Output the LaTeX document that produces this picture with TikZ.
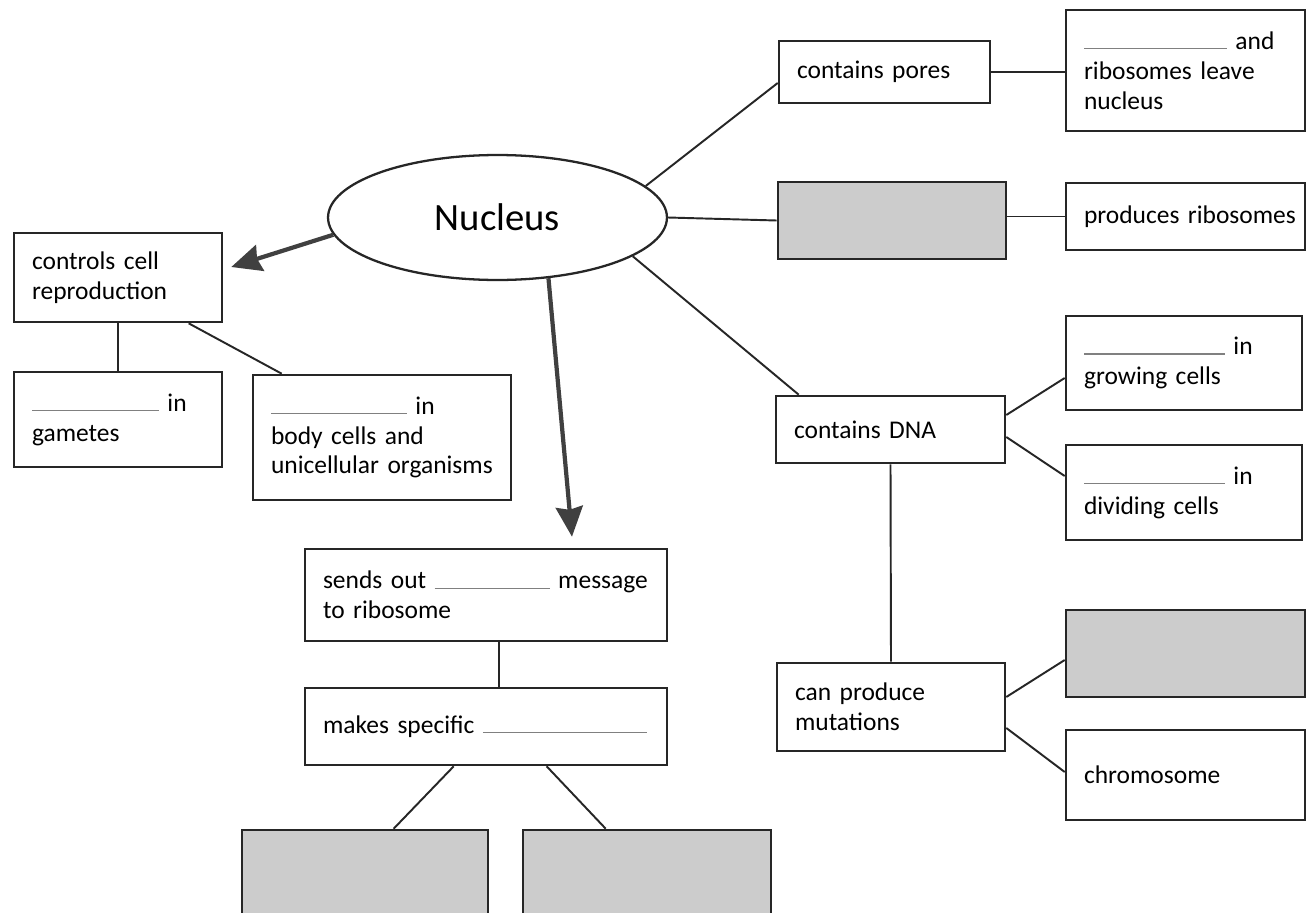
\documentclass[tikz,border=0pt]{standalone}
\usepackage{fontspec}
\setmainfont{Carlito}
\usepackage{tikz}
\usetikzlibrary{arrows.meta, shapes.geometric}
\newcommand{\blank}[1]{\textcolor{gray}{\rule{#1}{0.7pt}}}

\begin{document}
\begin{tikzpicture}[x=0.02cm, y=-0.02cm,
	box/.style={draw=black!85, line width=1.5pt, align=left, inner sep=0pt, font=\fontsize{14.5}{17}\selectfont},
	shaded/.style={draw=black!85, line width=1.5pt, fill=gray!40},
	link/.style={draw=black!85, line width=1.1pt},
	bigarrow/.style={draw=black!75, line width=2.4pt, -{Stealth[length=0.6cm, width=0.54cm, inset=0.06cm]}}]
		\useasboundingbox (0,0) rectangle (1316,913);
		\clip (0,0) rectangle (1316,913);
		\fill[white] (0,0) rectangle (1316,913);
		
		\node[ellipse, draw=black!85, line width=1.3pt, minimum width=6.78cm, minimum height=2.5cm, font=\fontsize{22}{26}\selectfont] (nuc) at (497.5,217.5) {Nucleus};
		
		% left branch
		\node[box, minimum width=4.16cm, minimum height=1.78cm, text width=3.44cm] (ctrl) at (118,277.5) {controls cell\\reproduction};
		\node[box, minimum width=4.16cm, minimum height=1.9cm, text width=3.44cm] (gam) at (118,419.5) {\blank{2.54cm} in\\gametes};
		\node[box, minimum width=5.16cm, minimum height=2.5cm, text width=4.44cm] (body) at (382,437.5) {\blank{2.72cm} in\\body cells and\\unicellular organisms};
		\draw[bigarrow] (nuc.186) -- ([xshift=0.16cm, yshift=0.21cm]ctrl.east);
		\draw[link] (ctrl.south) -- (gam.north);
		\draw[link] ([xshift=3.52cm]ctrl.south west) -- ([xshift=0.6cm]body.north west);
		
		% middle branch
		\node[box, minimum width=7.24cm, minimum height=1.84cm, text width=6.52cm] (send) at (486,595) {\mbox{sends out \blank{2.3cm} message}\\to ribosome};
		\node[box, minimum width=7.24cm, minimum height=1.54cm, text width=6.52cm] (spec) at (486,726.5) {\mbox{makes specific \blank{3.28cm}}};
		\node[shaded, minimum width=4.92cm, minimum height=2.3cm] (g1) at (365,887.5) {};
		\node[shaded, minimum width=4.96cm, minimum height=2.3cm] (g2) at (647,887.5) {};
		\draw[bigarrow] (nuc.-50) -- ([xshift=1.72cm, yshift=0.22cm]send.north);
		\draw[link] ([xshift=0.26cm]send.south) -- ([xshift=0.26cm]spec.north);
		\draw[link] ([xshift=3cm]spec.south west) -- ([xshift=3.06cm]g1.north west);
		\draw[link] ([xshift=4.86cm]spec.south west) -- ([xshift=1.68cm]g2.north west);
		
		% right branch
		\node[box, minimum width=4.22cm, minimum height=1.24cm, text width=3.5cm] (pores) at (884.5,72) {contains pores};
		\node[box, minimum width=4.78cm, minimum height=2.42cm, text width=4.06cm] (leave) at (1185.5,70.5) {\blank{2.86cm} and\\ribosomes leave\\nucleus};
		\node[shaded, minimum width=4.56cm, minimum height=1.54cm] (g3) at (892,220.5) {};
		\node[box, minimum width=4.78cm, minimum height=1.34cm, text width=4.06cm] (ribo) at (1185.5,216.5) {\mbox{produces ribosomes}};
		\node[box, minimum width=4.58cm, minimum height=1.34cm, text width=3.86cm] (dna) at (890.5,429.5) {contains DNA};
		\node[box, minimum width=4.72cm, minimum height=1.88cm, text width=4cm] (grow) at (1184,363) {\blank{2.82cm} in\\growing cells};
		\node[box, minimum width=4.72cm, minimum height=1.9cm, text width=4cm] (divide) at (1184,492.5) {\blank{2.82cm} in\\dividing cells};
		\node[box, minimum width=4.56cm, minimum height=1.76cm, text width=3.84cm] (mut) at (891,707) {can produce\\mutations};
		\node[shaded, minimum width=4.78cm, minimum height=1.74cm] (g4) at (1185.5,653.5) {};
		\node[box, minimum width=4.78cm, minimum height=1.8cm, text width=4.06cm] (chrom) at (1185.5,775) {chromosome};
		\draw[link] (nuc.12) -- ([yshift=-0.22cm]pores.west);
		\draw[link] (pores.east) -- (pores.east -| leave.west);
		\draw[link] (nuc.east) -- (g3.west);
		\draw[link] (g3.east |- ribo.west) -- (ribo.west);
		\draw[link] (nuc.-16) -- ([xshift=0.48cm]dna.north west);
		\draw[link] ([yshift=0.29cm]dna.east) -- ([yshift=-0.3cm]grow.west);
		\draw[link] ([yshift=-0.15cm]dna.east) -- ([yshift=0.33cm]divide.west);
		\draw[link] (dna.south) -- (mut.north);
		\draw[link] ([yshift=0.2cm]mut.east) -- ([yshift=-0.13cm]g4.west);
		\draw[link] ([yshift=-0.42cm]mut.east) -- ([yshift=0.06cm]chrom.west);
\end{tikzpicture}
\end{document}
